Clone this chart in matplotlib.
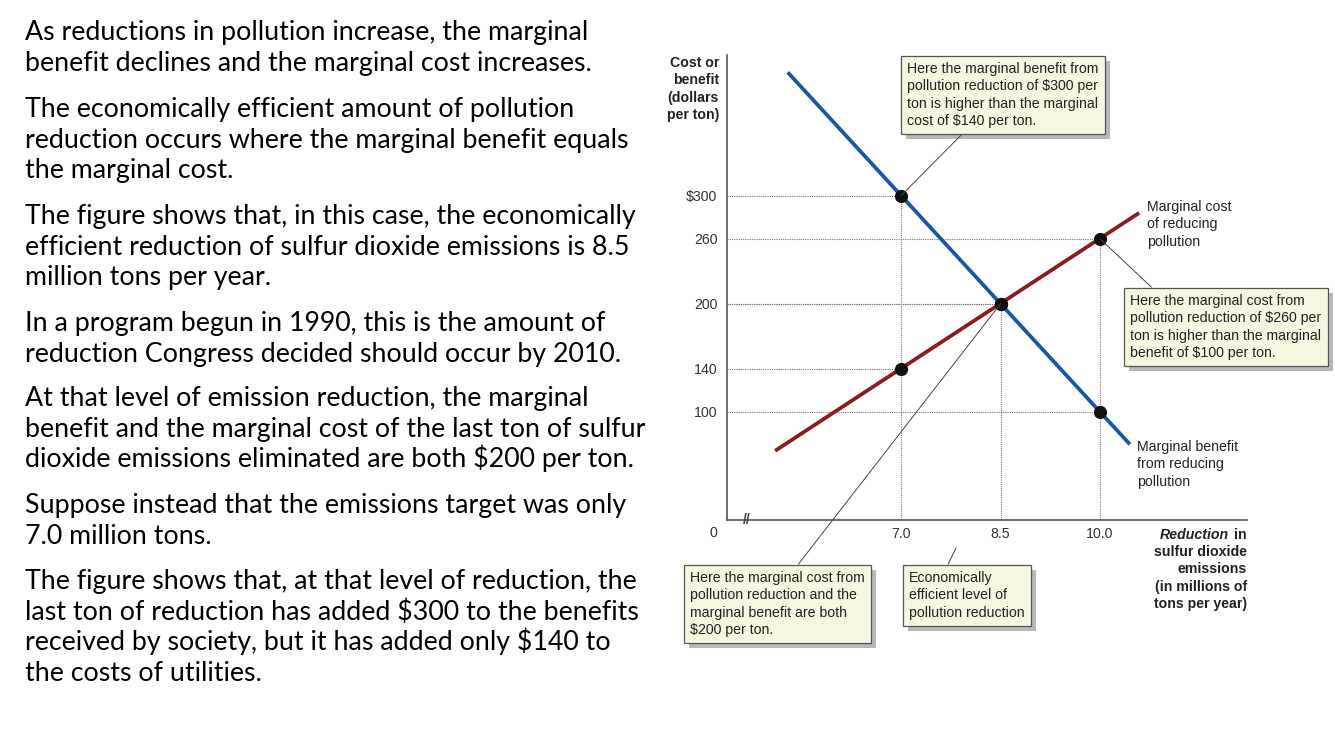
import matplotlib.pyplot as plt
from matplotlib.patches import Rectangle
from matplotlib.transforms import IdentityTransform

plt.rcParams["text.parse_math"] = False

# reduction in sulfur dioxide emissions (millions of tons per year)
reduction = [7.0, 8.5, 10.0]
marginal_benefit = [300, 200, 100]
marginal_cost = [140, 200, 260]
# end points of the two drawn curves
mb_line_x = [5.29, 10.45]
mb_line_y = [414, 70]
mc_line_x = [5.10, 10.59]
mc_line_y = [64, 284]

y_ticks = [100, 140, 200, 260, 300]
y_tick_labels = ["100", "140", "200", "260", "$300"]
x_tick_labels = ["7.0", "8.5", "10.0"]

paragraphs = [
    ["As reductions in pollution increase, the marginal",
     "benefit declines and the marginal cost increases."],
    ["The economically efficient amount of pollution",
     "reduction occurs where the marginal benefit equals",
     "the marginal cost."],
    ["The figure shows that, in this case, the economically",
     "efficient reduction of sulfur dioxide emissions is 8.5",
     "million tons per year."],
    ["In a program begun in 1990, this is the amount of",
     "reduction Congress decided should occur by 2010."],
    ["At that level of emission reduction, the marginal",
     "benefit and the marginal cost of the last ton of sulfur",
     "dioxide emissions eliminated are both $200 per ton."],
    ["Suppose instead that the emissions target was only",
     "7.0 million tons."],
    ["The figure shows that, at that level of reduction, the",
     "last ton of reduction has added $300 to the benefits",
     "received by society, but it has added only $140 to",
     "the costs of utilities."],
]
para_baselines = [40, 117, 224, 331, 406, 513, 589]

W, H = 1335, 729
fig = plt.figure(figsize=(W / 100, H / 100), dpi=100)
fig.patch.set_facecolor("white")


def px(x, y):
    # image pixel (top-left origin) -> figure pixels
    return (x, H - y)


# ---- left text block
for lines, base in zip(paragraphs, para_baselines):
    for i, line in enumerate(lines):
        fig.text(25 / W, (H - base - i * 30.7) / H, line, family="Lato",
                 fontsize=19.3, color="black", ha="left", va="baseline")

# ---- chart
x_left, x_right = 4.374, 12.217
y_top = 430
ax = fig.add_axes([727 / W, (H - 520) / H, (1247 - 727) / W, (520 - 55) / H])
ax.set_xlim(x_left, x_right)
ax.set_ylim(0, y_top)
ax.patch.set_alpha(0)
for side in ("top", "right"):
    ax.spines[side].set_visible(False)
for side in ("left", "bottom"):
    ax.spines[side].set_color("#555555")
    ax.spines[side].set_linewidth(1.2)

font = "Liberation Sans"
fs = 10.2
ax.set_yticks(y_ticks)
ax.set_yticklabels(y_tick_labels, family=font, fontsize=fs, color="#333333")
ax.set_xticks(reduction)
ax.set_xticklabels(x_tick_labels, family=font, fontsize=fs, color="#333333")
ax.tick_params(length=0, pad=5)
ax.tick_params(axis="y", pad=7)
ax.annotate("0", (x_left, 0), xytext=(-14, -13), textcoords="offset pixels",
            family=font, fontsize=fs, color="#333333", ha="center", va="center")
ax.text(x_left + 0.3, 0, "//", family=font, fontsize=10, fontweight="bold",
        color="#444444", ha="center", va="center")

# dotted guides
dot = dict(color="#777777", lw=0.8, ls=(0, (1, 1)), zorder=1)
for x, b, c in zip(reduction, marginal_benefit, marginal_cost):
    top = max(b, c)
    ax.plot([x_left, x], [b, b], **dot)
    ax.plot([x_left, x], [c, c], **dot)
    ax.plot([x, x], [0, top], **dot)

ax.plot(mb_line_x, mb_line_y, color="#1a56a6", lw=2.7, solid_capstyle="butt", zorder=2)
ax.plot(mc_line_x, mc_line_y, color="#8c1a1f", lw=2.7, solid_capstyle="butt", zorder=2)
ax.plot(reduction, marginal_benefit, "o", color="#111111", ms=8.5, zorder=4)
ax.plot(reduction, marginal_cost, "o", color="#111111", ms=8.5, zorder=4)

# axis titles
fig.text(719 / W, (H - 56) / H, "Cost or\nbenefit\n(dollars\nper ton)", family=font,
         fontsize=fs, fontweight="bold", color="#222222", ha="right", va="top",
         linespacing=1.3)
fig.text(1229 / W, (H - 535) / H, "Reduction", family=font, fontsize=fs,
         fontweight="bold", fontstyle="italic", color="#222222", ha="right",
         va="center")
fig.text(1247 / W, (H - 535) / H, "in", family=font, fontsize=fs,
         fontweight="bold", color="#222222", ha="right", va="center")
fig.text(1247 / W, (H - 545) / H,
         "sulfur dioxide\nemissions\n(in millions of\ntons per year)", family=font,
         fontsize=fs, fontweight="bold", color="#222222", ha="right", va="top",
         linespacing=1.3)

# curve labels
fig.text(1147 / W, (H - 200) / H, "Marginal cost\nof reducing\npollution",
         family=font, fontsize=fs, color="#222222", ha="left", va="top",
         linespacing=1.3)
fig.text(1137 / W, (H - 440) / H, "Marginal benefit\nfrom reducing\npollution",
         family=font, fontsize=fs, color="#222222", ha="left", va="top",
         linespacing=1.3)

# callout boxes
box = dict(boxstyle="square,pad=0.45", fc="#f7f6df", ec="#555555", lw=0.9)
callouts = [
    ("Here the marginal benefit from\npollution reduction of $300 per\n"
     "ton is higher than the marginal\ncost of $140 per ton.",
     (reduction[0], marginal_benefit[0]), "data", px(907, 62), (0.32, 0)),
    ("Here the marginal cost from\npollution reduction of $260 per\n"
     "ton is higher than the marginal\nbenefit of $100 per ton.",
     (reduction[2], marginal_cost[2]), "data", px(1130, 294), (0.15, 1)),
    ("Here the marginal cost from\npollution reduction and the\n"
     "marginal benefit are both\n$200 per ton.",
     (reduction[1], marginal_benefit[1]), "data", px(690, 571), (0.59, 1)),
    ("Economically\nefficient level of\npollution reduction",
     px(956, 548), "figure pixels", px(909, 571), (0.31, 1)),
]
anns = []
for text, xy, xycoords, xytext, relpos in callouts:
    ann = ax.annotate(text, xy, xycoords=xycoords, xytext=xytext,
                      textcoords="figure pixels", family=font, fontsize=fs,
                      color="#222222", ha="left", va="top", linespacing=1.3,
                      bbox=box, annotation_clip=False, zorder=5,
                      arrowprops=dict(arrowstyle="-", color="#444444", lw=0.7,
                                      relpos=relpos, shrinkA=0, shrinkB=0))
    anns.append(ann)

fig.canvas.draw()
renderer = fig.canvas.get_renderer()
for ann in anns:
    bb = ann.get_bbox_patch().get_window_extent(renderer)
    ax.add_patch(Rectangle((bb.x0 + 5, bb.y0 - 5), bb.width, bb.height,
                           transform=IdentityTransform(), fc="#b8b8b8",
                           ec="none", clip_on=False, zorder=3))

fig.savefig("out.png", dpi=100)
